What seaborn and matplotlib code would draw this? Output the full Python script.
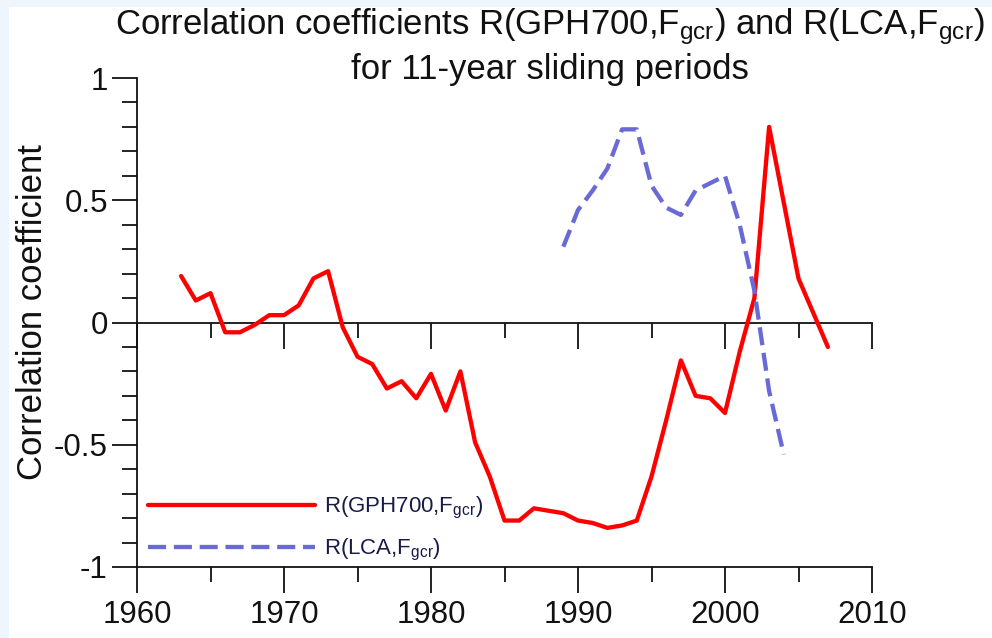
import numpy as np
import pandas as pd
import matplotlib
matplotlib.use("Agg")
import matplotlib.pyplot as plt
from matplotlib.patches import Rectangle
from matplotlib.ticker import MultipleLocator, FixedLocator, NullFormatter
import seaborn as sns

# ---------------- data ----------------
years_gph = list(range(1963, 2008))
r_gph = [0.19, 0.09, 0.12, -0.04, -0.04, -0.01, 0.03, 0.03, 0.07, 0.18,
         0.21, -0.02, -0.14, -0.17, -0.27, -0.24, -0.31, -0.21, -0.36, -0.20,
         -0.49, -0.63, -0.81, -0.81, -0.76, -0.77, -0.78, -0.81, -0.82, -0.84,
         -0.83, -0.81, -0.63, -0.40, -0.155, -0.30, -0.31, -0.37, -0.12, 0.10,
         0.80, 0.49, 0.18, 0.04, -0.10]

years_lca = list(range(1989, 2005))
r_lca = [0.31, 0.46, 0.54, 0.63, 0.79, 0.79, 0.56, 0.47, 0.44, 0.54,
         0.57, 0.60, 0.40, 0.13, -0.28, -0.54]

x_ticks = [1960, 1970, 1980, 1990, 2000, 2010]
y_ticks = [-1, -0.5, 0, 0.5, 1]
y_tick_labels = ["-1", "-0.5", "0", "0.5", "1"]

label_gph = r"R(GPH700,F$_{\mathrm{gcr}}$)"
label_lca = r"R(LCA,F$_{\mathrm{gcr}}$)"
title_l1 = r"Correlation coefficients R(GPH700,F$_{\mathrm{gcr}}$) and R(LCA,F$_{\mathrm{gcr}}$)"
title_l2 = "for 11-year sliding periods"
ylabel = "Correlation coefficient"

# ---------------- style ----------------
sns.set_theme(style="white")
plt.rcParams["font.family"] = ["Liberation Sans", "DejaVu Sans"]
plt.rcParams["mathtext.fontset"] = "custom"
plt.rcParams["mathtext.rm"] = "Liberation Sans"
plt.rcParams["mathtext.it"] = "Liberation Sans"
plt.rcParams["mathtext.bf"] = "Liberation Sans"

W, H = 992, 638
fig = plt.figure(figsize=(W / 100, H / 100), dpi=100, facecolor="white")

# light blue screenshot frame at top and left
fig.patches.append(Rectangle((0, 1 - 7 / H), 1, 7 / H, transform=fig.transFigure,
                             facecolor="#eef5fd", edgecolor="none", zorder=0))
fig.patches.append(Rectangle((0, 0), 9 / W, 1, transform=fig.transFigure,
                             facecolor="#eef5fd", edgecolor="none", zorder=0))

left, right, top, bottom = 137, 872, 78, 567
ax = fig.add_axes([left / W, 1 - bottom / H, (right - left) / W, (bottom - top) / H])
ax.set_facecolor("none")

df_gph = pd.DataFrame({"year": years_gph, "r": r_gph})
df_lca = pd.DataFrame({"year": years_lca, "r": r_lca})

sns.lineplot(data=df_gph, x="year", y="r", ax=ax, color="#ff0000",
             linewidth=3.1, label=label_gph)
sns.lineplot(data=df_lca, x="year", y="r", ax=ax, color="#6a6ad6",
             linewidth=3.1, label=label_lca)
ax.lines[1].set_dashes((4.2, 1.8))

ax.set_xlim(1960, 2010)
ax.set_ylim(-1, 1)

for s in ["top", "right"]:
    ax.spines[s].set_visible(False)
for s in ["left", "bottom"]:
    ax.spines[s].set_linewidth(1.3)
    ax.spines[s].set_color("#111111")

ax.xaxis.set_major_locator(FixedLocator(x_ticks))
ax.xaxis.set_minor_locator(MultipleLocator(5))
ax.yaxis.set_major_locator(FixedLocator(y_ticks))
ax.set_yticklabels(y_tick_labels)
ax.yaxis.set_minor_locator(MultipleLocator(0.1))

ax.tick_params(axis="both", which="major", direction="out", length=18,
               width=1.3, color="#111111", labelsize=22.5, labelcolor="#111111")
ax.tick_params(axis="both", which="minor", direction="out", length=11,
               width=1.3, color="#111111")
ax.tick_params(axis="x", which="both", bottom=True, top=False, pad=5)
ax.tick_params(axis="y", which="both", left=True, right=False, pad=3)
ax.tick_params(axis="x", which="major", length=19)
ax.set_xlabel("")
ax.set_ylabel("")

# zero line with its own tick marks
sec = ax.secondary_xaxis(0.4999)
sec.xaxis.set_major_locator(FixedLocator(x_ticks))
sec.xaxis.set_minor_locator(MultipleLocator(5))
sec.xaxis.set_major_formatter(NullFormatter())
sec.xaxis.set_minor_formatter(NullFormatter())
sec.tick_params(axis="x", which="major", direction="out", length=19, width=1.3,
                color="#111111", bottom=True, top=False)
sec.tick_params(axis="x", which="minor", direction="out", length=11, width=1.3,
                color="#111111", bottom=True, top=False)
for s in sec.spines.values():
    s.set_linewidth(1.3)
    s.set_color("#111111")

leg = ax.legend(loc="lower left", bbox_to_anchor=(0.003, -0.01), frameon=False,
                fontsize=16, handlelength=7.5, handletextpad=0.4,
                labelspacing=0.7, borderaxespad=0.2, borderpad=0.2)
for t in leg.get_texts():
    t.set_color("#1a1a4a")

fig.text(550 / W, 1 - 27 / H, title_l1, ha="center", va="center", fontsize=25,
         color="#111111")
fig.text(550 / W, 1 - 70 / H, title_l2, ha="center", va="center", fontsize=25,
         color="#111111")
fig.text(33 / W, 1 - 312 / H, ylabel, ha="center", va="center", rotation=90,
         fontsize=25, color="#111111")

fig.savefig("out.png", dpi=100, facecolor=fig.get_facecolor())
